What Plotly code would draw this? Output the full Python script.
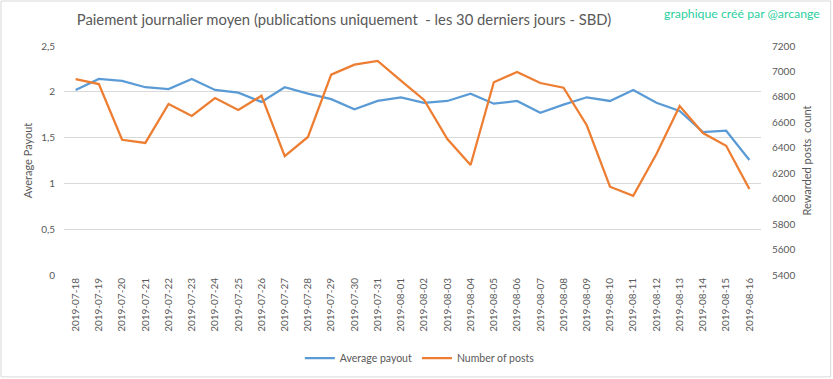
import plotly.graph_objects as go

dates = ["2019-07-18", "2019-07-19", "2019-07-20", "2019-07-21", "2019-07-22", "2019-07-23",
         "2019-07-24", "2019-07-25", "2019-07-26", "2019-07-27", "2019-07-28", "2019-07-29",
         "2019-07-30", "2019-07-31", "2019-08-01", "2019-08-02", "2019-08-03", "2019-08-04",
         "2019-08-05", "2019-08-06", "2019-08-07", "2019-08-08", "2019-08-09", "2019-08-10",
         "2019-08-11", "2019-08-12", "2019-08-13", "2019-08-14", "2019-08-15", "2019-08-16"]

avg_payout = [2.02, 2.14, 2.12, 2.05, 2.03, 2.14, 2.02, 1.99, 1.89, 2.05,
              1.98, 1.92, 1.81, 1.90, 1.94, 1.88, 1.90, 1.98, 1.87, 1.90,
              1.77, 1.86, 1.94, 1.90, 2.02, 1.88, 1.79, 1.56, 1.575, 1.255]

num_posts = [6940, 6901, 6463, 6438, 6744, 6650, 6791, 6697, 6809, 6335,
             6485, 6975, 7053, 7082, 6927, 6776, 6469, 6265, 6915, 6996,
             6909, 6872, 6577, 6094, 6023, 6351, 6728, 6516, 6416, 6076]

left_ticks = [0, 0.5, 1, 1.5, 2, 2.5]
left_labels = ["0", "0,5", "1", "1,5", "2", "2,5"]
right_ticks = [5400, 5600, 5800, 6000, 6200, 6400, 6600, 6800, 7000, 7200]

FONT = "Lato, 'Open Sans', sans-serif"
GRAY = "#595959"

fig = go.Figure()
fig.add_trace(go.Scatter(x=dates, y=avg_payout, name="Average payout", mode="lines",
                         line=dict(color="#5b9bd5", width=2.25), yaxis="y"))
fig.add_trace(go.Scatter(x=dates, y=num_posts, name="Number of posts", mode="lines",
                         line=dict(color="#ed7d31", width=2.25), yaxis="y2"))

fig.update_layout(
    width=833, height=379,
    margin=dict(l=64, r=72, t=46, b=104, autoexpand=False),
    paper_bgcolor="white", plot_bgcolor="white",
    font=dict(family=FONT, color=GRAY, size=10),
    title=dict(text="Paiement journalier moyen (publications uniquement  - les 30 derniers jours - SBD)",
               x=0.413, xanchor="center", y=1 - 20 / 379, yanchor="middle",
               font=dict(size=14.8, color=GRAY, family=FONT)),
    xaxis=dict(type="category", range=[-0.5, 29.5], tickangle=-90, showgrid=False,
               showline=False, ticks="", tickfont=dict(size=10, color=GRAY), zeroline=False,
               automargin=False),
    yaxis=dict(range=[0, 2.5], tickvals=left_ticks, ticktext=left_labels,
               showgrid=True, gridcolor="#d9d9d9", gridwidth=1, zeroline=False,
               title=dict(text="Average Payout", font=dict(size=11, color=GRAY), standoff=6),
               tickfont=dict(size=10, color=GRAY), ticks="", ticklabelstandoff=8,
               automargin=False),
    yaxis2=dict(range=[5400, 7200], tickvals=right_ticks, overlaying="y", side="right",
                showgrid=False, zeroline=False,
                title=dict(text="Rewarded posts  count", font=dict(size=11, color=GRAY), standoff=8),
                tickfont=dict(size=10, color=GRAY), ticks="", ticklabelstandoff=10,
                automargin=False),
    legend=dict(orientation="h", xref="container", yref="container", x=0.504, xanchor="center",
                y=1 - 358 / 379, yanchor="middle",
                font=dict(size=10.5, color=GRAY), itemwidth=30, tracegroupgap=0),
    showlegend=True,
    annotations=[dict(text="graphique créé par @arcange", xref="paper", yref="paper",
                      x=1.0875, xanchor="right", y=1.14, yanchor="middle", showarrow=False,
                      font=dict(size=12.3, color="#2bcf9f", family=FONT))],
    shapes=[dict(type="rect", xref="paper", yref="paper", x0=-0.0904, x1=1.100, y0=-0.445, y1=1.1965,
                 line=dict(color="#d9d9d9", width=1), fillcolor="rgba(0,0,0,0)", layer="below")],
)

fig.write_html("out.html", config={"displayModeBar": False},
               post_script="document.body.style.margin='0';")
